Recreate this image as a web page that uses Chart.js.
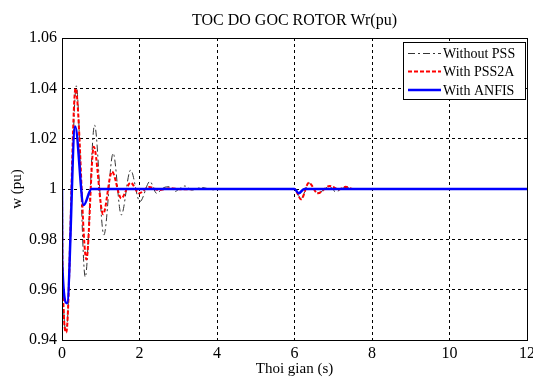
<!DOCTYPE html>
<html>
<head>
<meta charset="utf-8">
<script src="https://cdn.jsdelivr.net/npm/chart.js@4.4.0/dist/chart.umd.min.js"></script>
<style>
  html, body { margin: 0; padding: 0; background: #fff; }
  #wrap { width: 533px; height: 381px; position: relative; }
</style>
</head>
<body>
<div id="wrap"><canvas id="rotorChart"></canvas></div>
<script>
// Without PSS
const timeNoPss = [0, 0.01, 0.11, 0.37, 0.60, 0.84, 1.08, 1.32, 1.53, 1.77, 2.01, 2.27, 2.44, 2.62, 2.78, 2.91, 3.05, 3.17, 3.35, 3.6, 3.9, 4.2, 6.0, 6.17, 6.37, 6.6, 6.91, 7.06, 7.3, 7.6, 12];
const wNoPss = [1, 0.972, 0.944, 1.041, 0.965, 1.0254, 0.9817, 1.0142, 0.9897, 1.0075, 0.995, 1.003, 0.9983, 1.0005, 1.0009, 0.999, 1.0003, 1.0012, 0.9996, 1.0006, 0.9997, 1.0, 1.0, 0.9962, 1.0024, 0.9984, 1.001, 0.9989, 1.0006, 1.0, 1.0];

// With PSS2A
const timePss2a = [0, 0.01, 0.11, 0.35, 0.63, 0.82, 1.06, 1.29, 1.53, 1.77, 1.99, 2.25, 2.5, 2.8, 3.1, 3.5, 6.0, 6.17, 6.37, 6.6, 6.91, 7.15, 7.32, 7.5, 12];
const wPss2a = [1, 0.971, 0.943, 1.040, 0.972, 1.0168, 0.990, 1.0069, 0.9963, 1.0025, 0.9983, 1.0008, 0.9996, 1.0003, 0.9999, 1.0, 1.0, 0.9959, 1.0025, 0.9983, 1.0012, 0.9998, 1.0009, 1.0, 1.0];

// With ANFIS
const timeAnfis = [0, 0.005, 0.13, 0.34, 0.56, 0.76, 6.0, 6.11, 6.25, 12];
const wAnfis = [1, 0.971, 0.9546, 1.0248, 0.9936, 1.0, 1.0, 0.9983, 1.0, 1.0];

const xTicks = [0, 2, 4, 6, 8, 10, 12];
const yTicks = [0.94, 0.96, 0.98, 1, 1.02, 1.04, 1.06];

const chartTitle = 'TOC DO GOC ROTOR Wr(pu)';
const serif = 'Liberation Serif';

function toPoints(xs, ys) {
    return xs.map((x, i) => ({ x: x, y: ys[i] }));
}

// Title over the plot, frame round the plot, legend box in the top right corner
const frameAndLegend = {
    id: 'frameAndLegend',
    afterDraw(chart) {
        const ctx = chart.ctx;
        const a = chart.chartArea;
        ctx.save();

        ctx.fillStyle = '#000';
        ctx.font = '16px "' + serif + '"';
        ctx.textAlign = 'center';
        ctx.textBaseline = 'middle';
        ctx.fillText(chartTitle, (a.left + a.right) / 2, 21);

        ctx.setLineDash([]);
        ctx.strokeStyle = '#000';
        ctx.lineWidth = 1;
        ctx.strokeRect(Math.round(a.left) + 0.5, Math.round(a.top) + 0.5,
            Math.round(a.right - a.left), Math.round(a.bottom - a.top));

        const bw = 122, bh = 57;
        const bx = Math.round(a.right) - 124, by = Math.round(a.top) + 4;
        ctx.fillStyle = '#fff';
        ctx.fillRect(bx, by, bw, bh);
        ctx.strokeRect(bx + 0.5, by + 0.5, bw, bh);

        ctx.font = '14px "' + serif + '"';
        ctx.textAlign = 'left';
        const rows = [11.5, 29.5, 48];
        chart.data.datasets.forEach((ds, i) => {
            const y = by + rows[i];
            ctx.beginPath();
            ctx.strokeStyle = ds.borderColor;
            ctx.lineWidth = ds.borderWidth;
            ctx.setLineDash(ds.borderDash || []);
            ctx.moveTo(bx + 5, y);
            ctx.lineTo(bx + 38, y);
            ctx.stroke();
            ctx.setLineDash([]);
            ctx.fillStyle = '#000';
            ctx.fillText(ds.label, bx + 40, y + 1);
        });
        ctx.restore();
    }
};

const ctx = document.getElementById('rotorChart').getContext('2d');
const rotorChart = new Chart(ctx, {
    type: 'line',
    data: {
        datasets: [
            {
                label: 'Without PSS',
                data: toPoints(timeNoPss, wNoPss),
                borderColor: '#333',
                borderWidth: 1,
                borderDash: [7, 3, 2, 3],
                cubicInterpolationMode: 'monotone',
                pointRadius: 0,
                order: 2
            },
            {
                label: 'With PSS2A',
                data: toPoints(timePss2a, wPss2a),
                borderColor: '#ff0000',
                borderWidth: 2,
                borderDash: [4, 2],
                cubicInterpolationMode: 'monotone',
                pointRadius: 0,
                order: 1
            },
            {
                label: 'With ANFIS',
                data: toPoints(timeAnfis, wAnfis),
                borderColor: '#0000ff',
                borderWidth: 2.5,
                cubicInterpolationMode: 'monotone',
                pointRadius: 0,
                order: 0
            }
        ]
    },
    options: {
        responsive: true,
        maintainAspectRatio: false,
        animation: false,
        layout: {
            padding: { top: 38, right: 6, bottom: 0, left: 0 }
        },
        plugins: {
            legend: { display: false },
            tooltip: { enabled: false },
            title: { display: false }
        },
        scales: {
            x: {
                type: 'linear',
                min: 0,
                max: 12,
                afterBuildTicks: s => { s.ticks = xTicks.map(v => ({ value: v })); },
                afterFit: s => { s.height = 41; s.paddingLeft = 0; s.paddingRight = 0; },
                grid: { color: '#000', lineWidth: 1, drawTicks: false },
                border: { display: false, dash: [3, 3] },
                ticks: {
                    color: '#000',
                    padding: 4,
                    maxRotation: 0,
                    font: { family: serif, size: 16 }
                },
                title: {
                    display: true,
                    text: 'Thoi gian (s)',
                    color: '#000',
                    font: { family: serif, size: 15 },
                    padding: { top: 0, bottom: 3 }
                }
            },
            y: {
                type: 'linear',
                min: 0.94,
                max: 1.06,
                afterBuildTicks: s => { s.ticks = yTicks.map(v => ({ value: v })); },
                afterFit: s => { s.width = 62; },
                grid: { color: '#000', lineWidth: 1, drawTicks: false },
                border: { display: false, dash: [3, 3] },
                ticks: {
                    color: '#000',
                    padding: 5,
                    font: { family: serif, size: 16 },
                    callback: v => String(+Number(v).toFixed(2))
                },
                title: {
                    display: true,
                    text: 'w (pu)',
                    color: '#000',
                    font: { family: serif, size: 15 },
                    padding: { top: 8, bottom: 0 }
                }
            }
        }
    },
    plugins: [frameAndLegend]
});
</script>
</body>
</html>
